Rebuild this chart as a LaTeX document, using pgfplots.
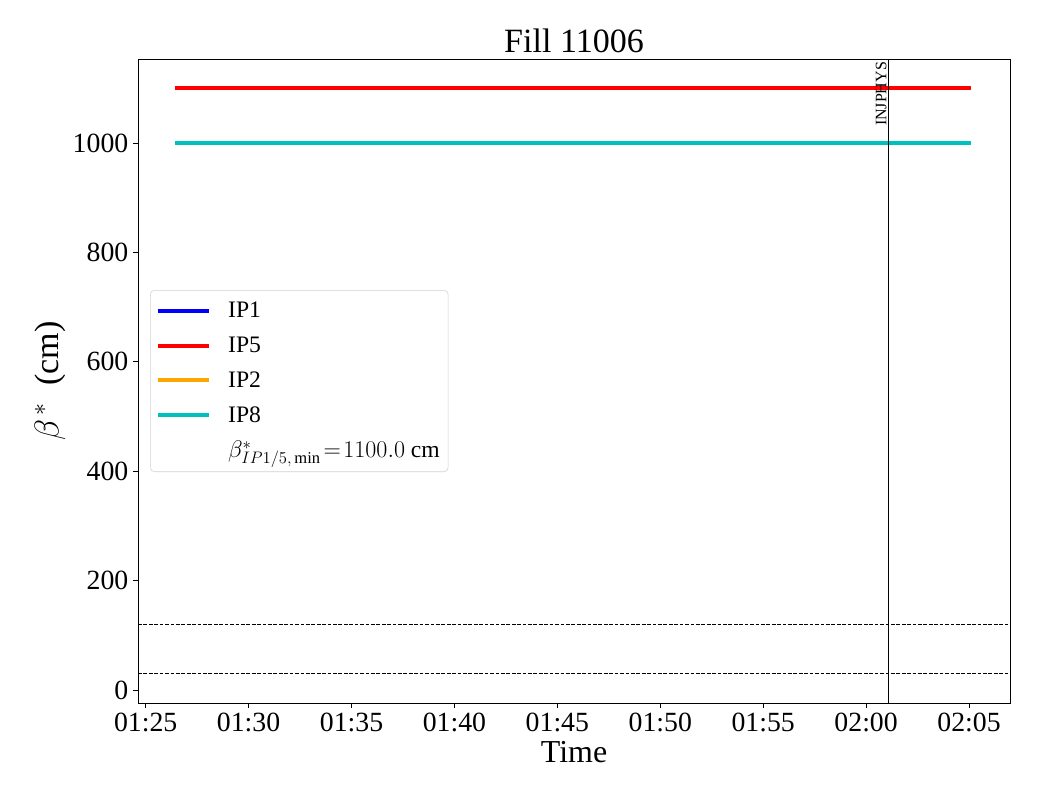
\documentclass[border=0pt]{standalone}
\usepackage{fontspec}
\setmainfont{Liberation Serif}
\usepackage{pgfplots}
\pgfplotsset{compat=1.18}
\definecolor{ipblue}{rgb}{0,0,1}
\definecolor{ipred}{rgb}{1,0,0}
\definecolor{iporange}{rgb}{1,0.647,0}
\definecolor{ipcyan}{rgb}{0,0.75,0.75}
\begin{document}
\begin{tikzpicture}
\begin{axis}[
  scale only axis,
  width=627.8pt, height=463.7pt,
  xmin=-0.37, xmax=41.99,
  ymin=-23.5, ymax=1153.5,
  xtick={0,5,10,15,20,25,30,35,40},
  xticklabels={01:25,01:30,01:35,01:40,01:45,01:50,01:55,02:00,02:05},
  ytick={0,200,400,600,800,1000},
  /pgf/number format/assume math mode=true,
  /pgf/number format/1000 sep={},
  tick align=outside,
  xtick pos=bottom, ytick pos=left,
  major tick length=3.5pt,
  tick style={black, line width=0.6pt},
  axis line style={black, line width=0.6pt},
  ticklabel style={font=\fontsize{20}{24}\selectfont},
  xlabel={Time},
  ylabel={$\beta^{\,*}$\ \ (cm)},
  label style={font=\fontsize{23}{27}\selectfont},
  ylabel style={font=\fontsize{24.5}{28}\selectfont, yshift=-2pt},
  xlabel style={yshift=0pt},
  title={Fill 11006},
  title style={font=\fontsize{24.5}{28}\selectfont, yshift=-5pt},
  legend style={at={(0.0138,0.5)}, anchor=west, draw=black!18, rounded corners=3pt,
    fill=white, font=\fontsize{17}{20}\selectfont, inner xsep=4pt, inner ysep=6.5pt,
    row sep=8.3pt, cells={anchor=west}},
  legend cell align=left,
  legend image code/.code={\draw[#1] (0pt,0pt) -- (37pt,0pt);},
  clip=false,
]
\addplot[ipblue, line width=3pt] coordinates {(1.42,1100) (40.10,1100)};
\addlegendentry{\hspace{10pt}IP1}
\addplot[ipred, line width=3pt] coordinates {(1.42,1100) (40.10,1100)};
\addlegendentry{\hspace{10pt}IP5}
\addplot[iporange, line width=3pt] coordinates {(1.42,1000) (40.10,1000)};
\addlegendentry{\hspace{10pt}IP2}
\addplot[ipcyan, line width=3pt] coordinates {(1.42,1000) (40.10,1000)};
\addlegendentry{\hspace{10pt}IP8}
\addlegendimage{empty legend}
\addlegendentry{\hspace{10pt}$\beta^{*}_{IP1/5,\,\mathrm{min}}\!=\!1100.0$ cm}
\addplot[black, line width=0.5pt, dash pattern=on 2.7pt off 1.2pt, forget plot] coordinates {(-0.37,120) (41.99,120)};
\addplot[black, line width=0.5pt, dash pattern=on 2.7pt off 1.2pt, forget plot] coordinates {(-0.37,30) (41.99,30)};
\addplot[black, line width=0.7pt, forget plot] coordinates {(36.07,-23.5) (36.07,1153.5)};
\node[rotate=90, anchor=south east, inner sep=1pt, font=\fontsize{11.5}{13}\selectfont] at (axis cs:36.07,1151) {INJPHYS};
\end{axis}
\path (current axis.south west) ++(-99.4pt,-69.8pt) rectangle ++(748.8pt,576pt);
\end{tikzpicture}
\end{document}
